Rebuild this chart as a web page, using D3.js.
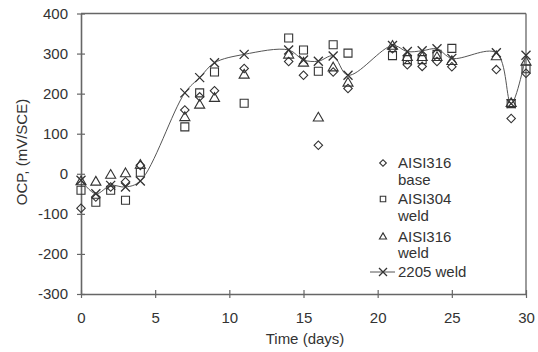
<!DOCTYPE html>
<html>
<head>
<meta charset="utf-8">
<script src="https://cdn.jsdelivr.net/npm/d3@7"></script>
<style>
  body { margin: 0; background: #fff; }
  text { font-family: "Liberation Sans", Arial, sans-serif; fill: #333; }
</style>
</head>
<body>
<div id="chart"></div>
<script>
const days = [0, 1, 2, 3, 4, 7, 8, 9, 11, 14, 15, 16, 17, 18, 21, 22, 23, 24, 25, 28, 29, 30];
const aisi316Base = [-86, -58, -33, -20, 21, 159, 192, 207, 263, 280, 246, 71, 254, 213, 312, 272, 268, 280, 267, 260, 138, 251];
const aisi304Weld = [-41, -71, -41, -66, 4, 117, 202, 254, 176, 339, 309, 256, 322, 301, 295, 285, 285, 298, 313, null, 175, 262];
const aisi316Weld = [-20, -21, -4, 0, 21, 140, 171, 188, 246, 296, 276, 139, 264, 226, 318, 290, 290, 290, 280, 292, 175, 278];
const weld2205 = [-16, -50, -29, -33, -18, 202, 240, 277, 298, 309, 284, 281, 294, 246, 320, 305, 307, 312, 288, 302, 175, 296];

const xTicks = [0, 5, 10, 15, 20, 25, 30];
const yTicks = [-300, -200, -100, 0, 100, 200, 300, 400];

const INK = '#333';
const AXIS = '#666';

const W = 538, H = 352;
const m = { top: 13.5, right: 12, bottom: 58, left: 81 };

const svg = d3.select('#chart').append('svg')
  .attr('width', W).attr('height', H);

const x = d3.scaleLinear().domain([0, 30]).range([m.left, W - m.right]);
const y = d3.scaleLinear().domain([-300, 400]).range([H - m.bottom, m.top]);

// frame (top and right)
svg.append('line')
  .attr('x1', x(0)).attr('x2', x(30)).attr('y1', y(400)).attr('y2', y(400))
  .attr('stroke', AXIS).attr('stroke-width', 1.3);
svg.append('line')
  .attr('x1', x(30)).attr('x2', x(30)).attr('y1', y(400)).attr('y2', y(-300))
  .attr('stroke', AXIS).attr('stroke-width', 1.3);

// axes with ticks crossing the line
const plain = (d) => String(d);
const xAxis = d3.axisBottom(x).tickValues(xTicks).tickFormat(plain).tickSizeInner(4).tickSizeOuter(0).tickPadding(14);
const gx = svg.append('g').attr('transform', 'translate(0,' + y(-300) + ')').call(xAxis);
const yAxis = d3.axisLeft(y).tickValues(yTicks).tickFormat(plain).tickSizeInner(4).tickSizeOuter(0).tickPadding(9);
const gy = svg.append('g').attr('transform', 'translate(' + x(0) + ',0)').call(yAxis);

[gx, gy].forEach((g) => {
  g.select('.domain').attr('stroke', AXIS).attr('stroke-width', 1.6);
  g.selectAll('.tick line').attr('stroke', AXIS).attr('stroke-width', 1.2);
  g.selectAll('.tick text').style('font-size', '15px').style('fill', INK)
    .style('font-family', '"Liberation Sans", Arial, sans-serif');
});
gx.selectAll('.tick line').attr('y1', -4);
gy.selectAll('.tick line').attr('x1', 4);

// axis titles
svg.append('text')
  .attr('x', 305).attr('y', 344)
  .attr('text-anchor', 'middle')
  .style('font-size', '15px')
  .text('Time (days)');
svg.append('text')
  .attr('transform', 'translate(27,152) rotate(-90)')
  .attr('text-anchor', 'middle')
  .style('font-size', '15px')
  .text('OCP, (mV/SCE)');

// marker shapes
const diamond = d3.symbol().type(d3.symbolSquare).size(36);
const square = d3.symbol().type(d3.symbolSquare).size(64);
const triangle = d3.symbol().type(d3.symbolTriangle).size(44);

const toPoints = (vals) => days.map((d, i) => ({ day: d, v: vals[i] })).filter((p) => p.v != null);

const drawMarks = (vals, shape, rotate) => {
  svg.append('g').selectAll('path')
    .data(toPoints(vals))
    .enter()
    .append('path')
    .attr('d', shape)
    .attr('transform', (p) => 'translate(' + x(p.day) + ',' + y(p.v) + ')' + (rotate ? ' rotate(45)' : ''))
    .attr('fill', 'none')
    .attr('stroke', INK)
    .attr('stroke-width', 1.1);
};

drawMarks(aisi316Base, diamond, true);
drawMarks(aisi304Weld, square, false);
drawMarks(aisi316Weld, triangle, false);

// 2205 weld: smooth line with x marks
const pts2205 = toPoints(weld2205);
svg.append('path')
  .datum(pts2205)
  .attr('d', d3.line().x((p) => x(p.day)).y((p) => y(p.v)).curve(d3.curveCatmullRom.alpha(0.5)))
  .attr('fill', 'none')
  .attr('stroke', '#555')
  .attr('stroke-width', 1);

const cross = (g, cx, cy, r) => {
  g.append('path')
    .attr('d', `M${cx - r},${cy - r}L${cx + r},${cy + r}M${cx - r},${cy + r}L${cx + r},${cy - r}`)
    .attr('stroke', INK).attr('stroke-width', 1.3).attr('fill', 'none');
};
const gX = svg.append('g');
pts2205.forEach((p) => cross(gX, x(p.day), y(p.v), 4.5));

// legend
const lg = svg.append('g');
const lx = 383, tx = 398;
const legendText = (ty, s) => lg.append('text')
  .attr('x', tx).attr('y', ty).attr('dy', '0.35em')
  .style('font-size', '15px').text(s);

lg.append('path').attr('d', d3.symbol().type(d3.symbolSquare).size(22))
  .attr('transform', 'translate(' + lx + ',163) rotate(45)')
  .attr('fill', 'none').attr('stroke', INK).attr('stroke-width', 1.1);
legendText(163, 'AISI316');
legendText(180, 'base');

lg.append('path').attr('d', d3.symbol().type(d3.symbolSquare).size(30))
  .attr('transform', 'translate(' + lx + ',199)')
  .attr('fill', 'none').attr('stroke', INK).attr('stroke-width', 1.1);
legendText(199, 'AISI304');
legendText(216, 'weld');

lg.append('path').attr('d', d3.symbol().type(d3.symbolTriangle).size(22))
  .attr('transform', 'translate(' + lx + ',237)')
  .attr('fill', 'none').attr('stroke', INK).attr('stroke-width', 1.1);
legendText(237, 'AISI316');
legendText(253, 'weld');

lg.append('line').attr('x1', 370).attr('x2', 395).attr('y1', 272).attr('y2', 272)
  .attr('stroke', '#555').attr('stroke-width', 1);
cross(lg, lx, 272, 4);
legendText(272, '2205 weld');
</script>
</body>
</html>
